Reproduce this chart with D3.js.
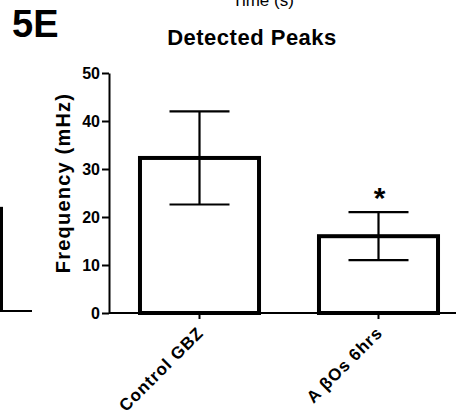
<!DOCTYPE html>
<html>
<head>
<meta charset="utf-8">
<script src="https://cdn.jsdelivr.net/npm/d3@7"></script>
<style>
  body { margin: 0; background: #fff; }
  svg { display: block; font-family: "Liberation Sans", Arial, sans-serif; }
</style>
</head>
<body>
<div id="chart"></div>
<script>
var WIDTH = 456;
var HEIGHT = 417;

// data
var categories = ["Control GBZ", "A \u03B2Os 6hrs"];
var means = [32.3, 16.0];
var sems = [9.7, 5.0];
var significant = [false, true];
var yTicks = [0, 10, 20, 30, 40, 50];
// right edge of the last bar of the neighbouring (cropped) panel
var neighbourBar = [21.7];

var svg = d3.select("#chart")
  .append("svg")
  .attr("width", WIDTH)
  .attr("height", HEIGHT);

var y = d3.scaleLinear()
  .domain([0, 50])
  .range([313, 73]);

var x = d3.scaleBand()
  .domain(categories)
  .range([110, 468])
  .paddingInner(0.335)
  .paddingOuter(0.1675);

// panel label + leftovers of neighbouring panels
svg.append("text")
  .attr("x", 12)
  .attr("y", 37)
  .style("font-size", "38px")
  .style("font-weight", "bold")
  .text("5E");

svg.append("text")
  .attr("x", 263)
  .attr("y", 6)
  .attr("text-anchor", "middle")
  .style("font-size", "17px")
  .text("Time (s)");

var nb = svg.append("g").attr("transform", "translate(0,-2)");
nb.selectAll("line.nbar")
  .data(neighbourBar)
  .enter()
  .append("line")
  .attr("class", "nbar")
  .attr("x1", 1.5).attr("x2", 1.5)
  .attr("y1", function(d) { return y(d); })
  .attr("y2", y(0))
  .attr("stroke", "#000")
  .attr("stroke-width", 3);
nb.append("line")
  .attr("x1", 0).attr("x2", 32)
  .attr("y1", y(0)).attr("y2", y(0))
  .attr("stroke", "#000")
  .attr("stroke-width", 2);

// title
svg.append("text")
  .attr("x", 252)
  .attr("y", 45)
  .attr("text-anchor", "middle")
  .style("font-size", "22px")
  .style("font-weight", "bold")
  .style("letter-spacing", "0.5px")
  .text("Detected Peaks");

// bars
svg.selectAll("rect.bar")
  .data(means)
  .enter()
  .append("rect")
  .attr("class", "bar")
  .attr("x", function(d, i) { return x(categories[i]); })
  .attr("y", function(d) { return y(d); })
  .attr("width", x.bandwidth())
  .attr("height", function(d) { return y(0) - y(d); })
  .attr("fill", "#fff")
  .attr("stroke", "#000")
  .attr("stroke-width", 4);

// error bars
var capHalf = 30;
var err = svg.selectAll("g.err")
  .data(means)
  .enter()
  .append("g")
  .attr("class", "err")
  .attr("stroke", "#000")
  .attr("stroke-width", 2.2);

err.append("line")
  .attr("x1", function(d, i) { return x(categories[i]) + x.bandwidth() / 2; })
  .attr("x2", function(d, i) { return x(categories[i]) + x.bandwidth() / 2; })
  .attr("y1", function(d, i) { return y(d + sems[i]); })
  .attr("y2", function(d, i) { return y(d - sems[i]); });
err.append("line")
  .attr("x1", function(d, i) { return x(categories[i]) + x.bandwidth() / 2 - capHalf; })
  .attr("x2", function(d, i) { return x(categories[i]) + x.bandwidth() / 2 + capHalf; })
  .attr("y1", function(d, i) { return y(d + sems[i]); })
  .attr("y2", function(d, i) { return y(d + sems[i]); });
err.append("line")
  .attr("x1", function(d, i) { return x(categories[i]) + x.bandwidth() / 2 - capHalf; })
  .attr("x2", function(d, i) { return x(categories[i]) + x.bandwidth() / 2 + capHalf; })
  .attr("y1", function(d, i) { return y(d - sems[i]); })
  .attr("y2", function(d, i) { return y(d - sems[i]); });

// significance star
svg.selectAll("text.star")
  .data(means.filter(function(d, i) { return significant[i]; }))
  .enter()
  .append("text")
  .attr("class", "star")
  .attr("x", function(d) { return x(categories[means.indexOf(d)]) + x.bandwidth() / 2 + 1; })
  .attr("y", function(d) { return y(d + sems[means.indexOf(d)]) - 4; })
  .attr("text-anchor", "middle")
  .style("font-size", "30px")
  .style("font-weight", "bold")
  .text("*");

// y axis
var yAxis = svg.append("g")
  .attr("transform", "translate(109,0)")
  .call(d3.axisLeft(y).tickValues(yTicks).tickSize(7).tickSizeOuter(0).tickPadding(2));
yAxis.select(".domain").attr("stroke-width", 2);
yAxis.selectAll(".tick line").attr("stroke-width", 2);
yAxis.selectAll(".tick text")
  .style("font-size", "16px")
  .style("font-weight", "bold")
  .style("font-family", "'Liberation Sans', Arial, sans-serif")
  .attr("fill", "#000");

svg.append("text")
  .attr("transform", "translate(70,183) rotate(-90)")
  .attr("text-anchor", "middle")
  .style("font-size", "20px")
  .style("font-weight", "bold")
  .style("letter-spacing", "1.2px")
  .text("Frequency (mHz)");

// x axis
var xAxis = svg.append("g")
  .attr("transform", "translate(0," + y(0) + ")")
  .call(d3.axisBottom(x).tickSize(6).tickSizeOuter(0));
xAxis.select(".domain").attr("stroke-width", 2).attr("d", "M109,0H" + WIDTH);
xAxis.selectAll(".tick line").attr("stroke-width", 2);
xAxis.selectAll(".tick text")
  .attr("text-anchor", "end")
  .attr("dy", null)
  .attr("transform", "translate(5,21) rotate(-45)")
  .attr("x", 0)
  .attr("y", 0)
  .style("font-size", "17px")
  .style("font-weight", "bold")
  .style("letter-spacing", "0.9px")
  .style("font-family", "'Liberation Sans', Arial, sans-serif")
  .attr("fill", "#000");
</script>
</body>
</html>
